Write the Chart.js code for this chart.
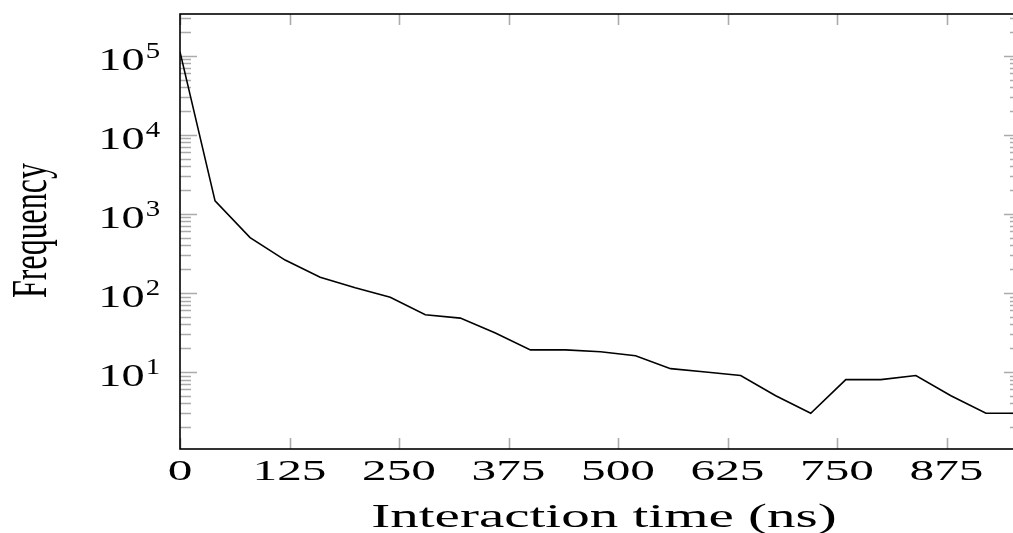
<!DOCTYPE html>
<html>
<head>
<meta charset="utf-8">
<script src="https://cdn.jsdelivr.net/npm/chart.js@4.4.1/dist/chart.umd.min.js"></script>
<style>
  html, body { margin: 0; padding: 0; background: #fff; overflow: hidden; }
  #wrap { width: 1022px; height: 533px; position: relative; }
</style>
</head>
<body>
<div id="wrap"><canvas id="chart"></canvas></div>
<script>
// interaction time histogram
const times = [0, 40, 80, 120, 160, 200, 240, 280, 320, 360, 400, 440, 480,
  520, 560, 600, 640, 680, 720, 760, 800, 840, 880, 920, 960];
const counts = [112000, 1460, 500, 260, 158, 116, 88, 53, 48, 31, 19, 19, 18,
  16, 11, 10, 9, 5, 3, 8, 8, 9, 5, 3, 3];
const xTicks = [0, 125, 250, 375, 500, 625, 750, 875];
const yExponents = [1, 2, 3, 4, 5];
const xLimits = [0, 960];
const yLimits = [1.06, 3.37e5];
const xTitle = "Interaction time (ns)";
const yTitle = "Frequency";

const serif = '"Liberation Serif", "DejaVu Serif", serif';

const stretchText = (ctx, text, x, y, sx, align) => {
  ctx.save();
  ctx.translate(x, y);
  ctx.scale(sx, 1);
  ctx.textAlign = align;
  ctx.textBaseline = "alphabetic";
  ctx.fillText(text, 0, 0);
  ctx.restore();
};

const inkWidth = (ctx, text) => {
  const m = ctx.measureText(text);
  return m.actualBoundingBoxLeft + m.actualBoundingBoxRight;
};

const pgfAxes = {
  id: "pgfAxes",
  afterDraw(chart) {
    const { ctx, chartArea: a, scales } = chart;
    const x = scales.x;
    const y = scales.y;
    ctx.save();

    // tick marks, pointing inwards
    ctx.strokeStyle = "rgba(0,0,0,0.33)";
    ctx.lineWidth = 1.6;
    ctx.beginPath();
    xTicks.forEach((t) => {
      const px = Math.round(x.getPixelForValue(t)) + 0.5;
      ctx.moveTo(px, a.bottom); ctx.lineTo(px, a.bottom - 11);
      ctx.moveTo(px, a.top); ctx.lineTo(px, a.top + 11);
    });
    for (let k = 0; k <= 5; k++) {
      for (let m = 1; m <= 9; m++) {
        const v = m * Math.pow(10, k);
        if (v < yLimits[0] || v > yLimits[1]) continue;
        const py = Math.round(y.getPixelForValue(v)) + 0.5;
        const len = m === 1 ? 17 : 11;
        ctx.moveTo(a.left, py); ctx.lineTo(a.left + len, py);
        ctx.moveTo(a.right, py); ctx.lineTo(a.right - len, py);
      }
    }
    ctx.stroke();

    // frame
    ctx.strokeStyle = "#000";
    ctx.lineWidth = 1.6;
    ctx.strokeRect(a.left, a.top, a.right - a.left, a.bottom - a.top);

    ctx.fillStyle = "#000";

    // x tick labels
    ctx.font = `30px ${serif}`;
    const sxTick = 69 / inkWidth(ctx, "125");
    xTicks.forEach((t) => {
      stretchText(ctx, String(t), x.getPixelForValue(t), 480, sxTick, "center");
    });

    // y tick labels 10^k
    ctx.font = `32px ${serif}`;
    const sxBase = 42 / inkWidth(ctx, "10");
    yExponents.forEach((e) => {
      const py = y.getPixelForValue(Math.pow(10, e));
      ctx.font = `23px ${serif}`;
      const supW = ctx.measureText(String(e)).width * 1.25;
      stretchText(ctx, String(e), 160, py + 2, 1.25, "right");
      ctx.font = `32px ${serif}`;
      stretchText(ctx, "10", 160 - supW - 1, py + 14, sxBase, "right");
    });

    // x title
    ctx.font = `33px ${serif}`;
    stretchText(ctx, xTitle, 604, 527, 462 / inkWidth(ctx, xTitle), "center");

    // y title, rotated and condensed
    ctx.font = `30px ${serif}`;
    const sy = 135 / inkWidth(ctx, yTitle);
    ctx.save();
    ctx.translate(46, 230.5);
    ctx.rotate(-Math.PI / 2);
    ctx.scale(sy, 1.71);
    ctx.textAlign = "center";
    ctx.fillText(yTitle, 0, 0);
    ctx.restore();

    ctx.restore();
  },
};

new Chart(document.getElementById("chart"), {
  type: "line",
  data: {
    datasets: [
      {
        data: times.map((t, i) => ({ x: t, y: counts[i] })),
        borderColor: "#000",
        borderWidth: 1.6,
        pointRadius: 0,
        tension: 0,
        fill: false,
      },
    ],
  },
  options: {
    responsive: true,
    maintainAspectRatio: false,
    animation: false,
    layout: { padding: { left: 180, top: 14, right: 1, bottom: 84 } },
    plugins: { legend: { display: false }, tooltip: { enabled: false } },
    scales: {
      x: { type: "linear", min: xLimits[0], max: xLimits[1], display: false },
      y: { type: "logarithmic", min: yLimits[0], max: yLimits[1], display: false },
    },
  },
  plugins: [pgfAxes],
});
</script>
</body>
</html>
